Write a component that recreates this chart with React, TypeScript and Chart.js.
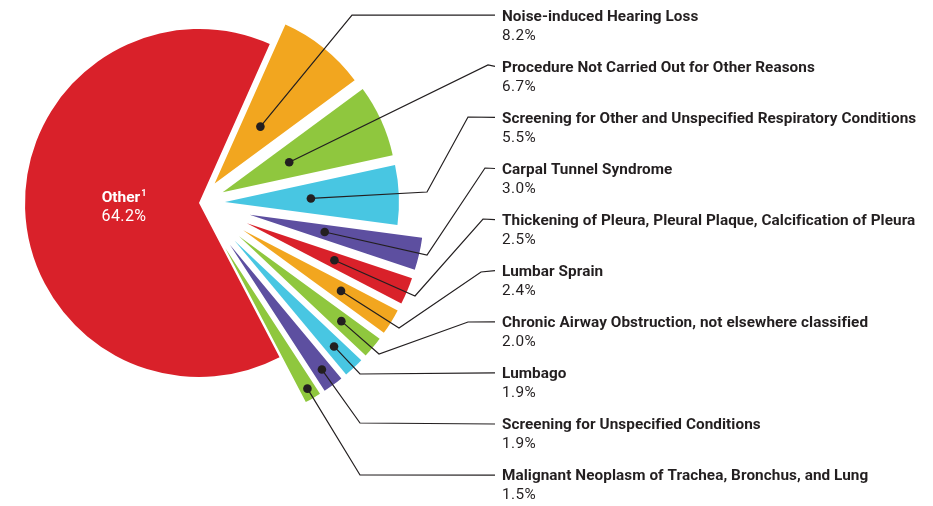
import React, { useEffect, useRef } from 'react';
import { Chart, registerables } from 'chart.js';

Chart.register(...registerables);

// ---- data ----
const categories = [
  'Noise-induced Hearing Loss',
  'Procedure Not Carried Out for Other Reasons',
  'Screening for Other and Unspecified Respiratory Conditions',
  'Carpal Tunnel Syndrome',
  'Thickening of Pleura, Pleural Plaque, Calcification of Pleura',
  'Lumbar Sprain',
  'Chronic Airway Obstruction, not elsewhere classified',
  'Lumbago',
  'Screening for Unspecified Conditions',
  'Malignant Neoplasm of Trachea, Bronchus, and Lung',
  'Other',
];
const shares = [8.2, 6.7, 5.5, 3.0, 2.5, 2.4, 2.0, 1.9, 1.9, 1.5, 64.2];
const valueLabels = ['8.2%', '6.7%', '5.5%', '3.0%', '2.5%', '2.4%', '2.0%', '1.9%', '1.9%', '1.5%', '64.2%'];

// ---- styling ----
const ORANGE = '#F2A61F';
const GREEN = '#8FC73E';
const TEAL = '#48C6E2';
const PURPLE = '#5D4FA0';
const RED = '#D9212A';
const sliceColors = [ORANGE, GREEN, TEAL, PURPLE, RED, ORANGE, GREEN, TEAL, PURPLE, GREEN, RED];
const explodeDist = [25, 26, 26, 52, 52, 52, 52, 52, 52, 52, 0];
const dotDist = [73, 73, 86, 77, 95, 115, 133, 145, 155, 163];
// leader-line bend points (annotation layout)
const leaderBends: number[][][] = [
  [[352, 15]],
  [[488, 65]],
  [[427, 192], [468, 117]],
  [[427, 255], [485, 168]],
  [[415, 296], [483, 219]],
  [[399, 328], [481, 272]],
  [[379, 354], [468, 322]],
  [[360, 374]],
  [[360, 423]],
  [[360, 475]],
];
const INK = '#231F20';
const LABEL_X = 502;
const LINE_END_X = 495;
const TITLE_Y0 = 16.7;
const TITLE_STEP = 51.1;
const VALUE_DY = 19;
const FONT = 'Roboto, "Noto Sans", sans-serif';
const TITLE_SIZE = 15.3;
const VALUE_SIZE = 15.3;

const explodePlugin = {
  id: 'explode',
  afterDatasetUpdate(chart: any, args: any) {
    const meta = chart.getDatasetMeta(args.index);
    meta.data.forEach((el: any, i: number) => {
      const d = explodeDist[i] || 0;
      const mid = (el.startAngle + el.endAngle) / 2;
      el.x += Math.cos(mid) * d;
      el.y += Math.sin(mid) * d;
    });
  },
};

const labelPlugin = {
  id: 'leaderLabels',
  afterDraw(chart: any) {
    const ctx = chart.ctx as CanvasRenderingContext2D;
    const meta = chart.getDatasetMeta(0);
    ctx.save();
    // fit the title letter spacing so the longest title matches the column width
    ctx.font = `bold ${TITLE_SIZE}px ${FONT}`;
    const longest = categories[2];
    const w = ctx.measureText(longest).width;
    const ls = (414 - w) / longest.length;
    for (let i = 0; i < 10; i++) {
      const el = meta.data[i];
      const mid = (el.startAngle + el.endAngle) / 2;
      const dx = el.x + Math.cos(mid) * dotDist[i];
      const dy = el.y + Math.sin(mid) * dotDist[i];
      const ty = TITLE_Y0 + i * TITLE_STEP;
      const ly = ty - 1.5;
      ctx.strokeStyle = INK;
      ctx.lineWidth = 1.2;
      ctx.beginPath();
      ctx.moveTo(dx, dy);
      leaderBends[i].forEach(([bx, by]) => ctx.lineTo(bx, by));
      ctx.lineTo(LINE_END_X, ly);
      ctx.stroke();
      ctx.fillStyle = INK;
      ctx.beginPath();
      ctx.arc(dx, dy, 4.3, 0, Math.PI * 2);
      ctx.fill();

      ctx.textBaseline = 'middle';
      ctx.textAlign = 'left';
      (ctx as any).letterSpacing = `${ls.toFixed(3)}px`;
      ctx.font = `bold ${TITLE_SIZE}px ${FONT}`;
      ctx.fillText(categories[i], LABEL_X, ty);
      (ctx as any).letterSpacing = '0.4px';
      ctx.font = `${VALUE_SIZE}px ${FONT}`;
      ctx.fillText(valueLabels[i], LABEL_X, ty + VALUE_DY);
    }
    (ctx as any).letterSpacing = '0px';
    // Other label inside the big slice
    const o = meta.data[10];
    const om = (o.startAngle + o.endAngle) / 2;
    const ox = o.x + Math.cos(om) * 75;
    const oy = o.y + Math.sin(om) * 75 + 2;
    ctx.fillStyle = '#FFFFFF';
    ctx.textBaseline = 'middle';
    ctx.font = `bold 15.5px ${FONT}`;
    const tw = ctx.measureText(categories[10]).width;
    ctx.font = `bold 9px ${FONT}`;
    const sw = ctx.measureText('1').width;
    const startX = ox - (tw + sw + 1) / 2;
    ctx.textAlign = 'left';
    ctx.font = `bold 15.5px ${FONT}`;
    ctx.fillText(categories[10], startX, oy - 9);
    ctx.font = `bold 9px ${FONT}`;
    ctx.fillText('1', startX + tw + 1, oy - 14);
    (ctx as any).letterSpacing = '0.4px';
    ctx.font = `16px ${FONT}`;
    ctx.textAlign = 'center';
    ctx.fillText(valueLabels[10], ox, oy + 10);
    ctx.restore();
  },
};

export default function App() {
  const ref = useRef<HTMLCanvasElement | null>(null);
  useEffect(() => {
    if (!ref.current) return;
    const chart = new Chart(ref.current, {
      type: 'pie',
      data: {
        labels: categories,
        datasets: [
          {
            data: shares,
            backgroundColor: sliceColors,
            borderWidth: 0,
          },
        ],
      },
      options: {
        responsive: true,
        maintainAspectRatio: false,
        animation: false,
        rotation: 24,
        events: [],
        layout: { padding: { left: 25, top: 29, right: 560, bottom: 129 } },
        plugins: {
          legend: { display: false },
          tooltip: { enabled: false },
        },
      },
      plugins: [explodePlugin, labelPlugin],
    });
    return () => chart.destroy();
  }, []);
  return (
    <div style={{ position: 'absolute', left: 0, top: 0, width: 933, height: 506, background: '#fff' }}>
      <canvas ref={ref} />
    </div>
  );
}
